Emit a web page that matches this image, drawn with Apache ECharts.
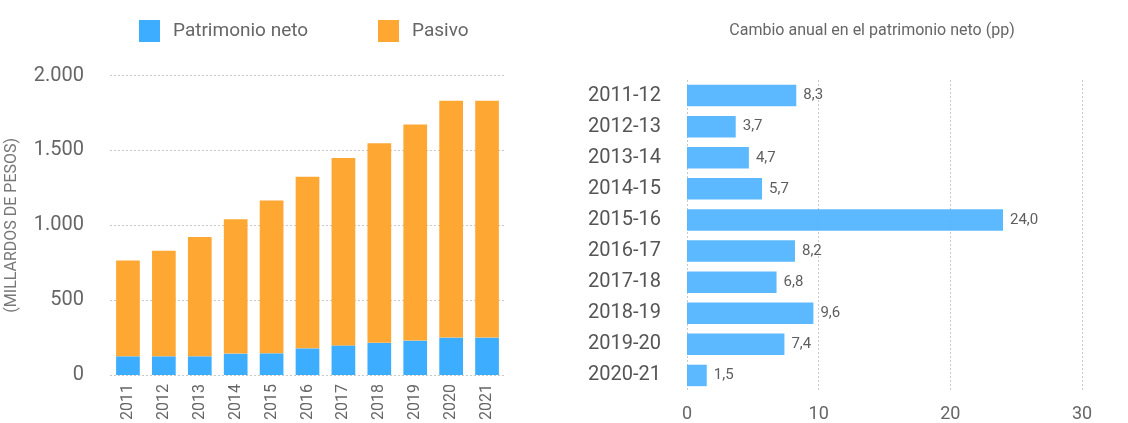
<!DOCTYPE html>
<html>
<head>
<meta charset="utf-8">
<script src="https://cdn.jsdelivr.net/npm/echarts@6/dist/echarts.min.js"></script>
<style>
  html, body { margin: 0; padding: 0; background: #fff; }
  #chart { width: 1128px; height: 423px; }
</style>
</head>
<body>
<div id="chart"></div>
<script>
const years = ['2011', '2012', '2013', '2014', '2015', '2016', '2017', '2018', '2019', '2020', '2021']
const patrimonio = [125, 125, 125, 143, 145, 178, 198, 215, 230, 250, 250]
const pasivo = [639, 705, 797, 898, 1021, 1146, 1251, 1333, 1443, 1581, 1581]

const periods = ['2011-12', '2012-13', '2013-14', '2014-15', '2015-16', '2016-17', '2017-18', '2018-19', '2019-20', '2020-21']
const cambio = [8.3, 3.7, 4.7, 5.7, 24.0, 8.2, 6.8, 9.6, 7.4, 1.5]

const font = 'Roboto, "DejaVu Sans", sans-serif'
const blue = '#3daeff'
const orange = '#ffa733'
const gridLine = { show: true, lineStyle: { color: '#c8c8c8', type: [2, 2], width: 1 } }

const fmtMiles = v => String(v).replace(/\B(?=(\d{3})+(?!\d))/g, '.')

const chart = echarts.init(document.getElementById('chart'))
chart.setOption({
  animation: false,
  textStyle: { fontFamily: font },
  title: {
    text: 'Cambio anual en el patrimonio neto (pp)',
    left: 867, top: 18, textAlign: 'center',
    textStyle: { fontSize: 16, fontWeight: 'normal', color: '#666', fontFamily: font }
  },
  legend: [
    {
      data: ['Patrimonio neto'], left: 134, top: 15,
      itemWidth: 21, itemHeight: 22, icon: 'rect',
      textStyle: { fontSize: 19, color: '#666', padding: [0, 0, 0, 8] }
    },
    {
      data: ['Pasivo'], left: 373, top: 15,
      itemWidth: 21, itemHeight: 22, icon: 'rect',
      textStyle: { fontSize: 19, color: '#666', padding: [0, 0, 0, 8] }
    }
  ],
  grid: [
    { left: 110, top: 75.5, width: 395, height: 303.5 },
    { left: 687, top: 80, width: 395, height: 315 }
  ],
  xAxis: [
    {
      gridIndex: 0, type: 'category', data: years,
      axisLine: { show: false }, axisTick: { show: false },
      axisLabel: { rotate: 90, fontSize: 16, color: '#666', margin: 9 }
    },
    {
      gridIndex: 1, type: 'value', min: 0, max: 30, interval: 10,
      axisLine: { show: false }, axisTick: { show: false },
      splitLine: gridLine,
      axisLabel: { fontSize: 18, color: '#666', margin: 14 }
    }
  ],
  yAxis: [
    {
      gridIndex: 0, type: 'value', min: 0, max: 2000, interval: 500,
      name: '(MILLARDOS DE PESOS)', nameLocation: 'middle', nameGap: 90,
      nameTextStyle: { fontSize: 16, color: '#777' },
      axisLine: { show: false }, axisTick: { show: false },
      splitLine: gridLine,
      axisLabel: { fontSize: 20, color: '#666', margin: 26, formatter: fmtMiles }
    },
    {
      gridIndex: 1, type: 'category', data: periods, inverse: true,
      axisLine: { show: false }, axisTick: { show: false },
      axisLabel: { fontSize: 20, color: '#555', margin: 26 }
    }
  ],
  series: [
    {
      name: 'Patrimonio neto', type: 'bar', stack: 'total',
      xAxisIndex: 0, yAxisIndex: 0, data: patrimonio,
      barWidth: '66%', itemStyle: { color: blue }
    },
    {
      name: 'Pasivo', type: 'bar', stack: 'total',
      xAxisIndex: 0, yAxisIndex: 0, data: pasivo,
      barWidth: '66%', itemStyle: { color: orange }
    },
    {
      name: 'Cambio', type: 'bar',
      xAxisIndex: 1, yAxisIndex: 1, data: cambio,
      barWidth: '69%', itemStyle: { color: '#53b5ff', opacity: 0.95 },
      label: {
        show: true, position: 'right', distance: 7,
        fontSize: 15, color: '#555',
        formatter: p => p.value.toFixed(1).replace('.', ',')
      }
    }
  ]
})
</script>
</body>
</html>
